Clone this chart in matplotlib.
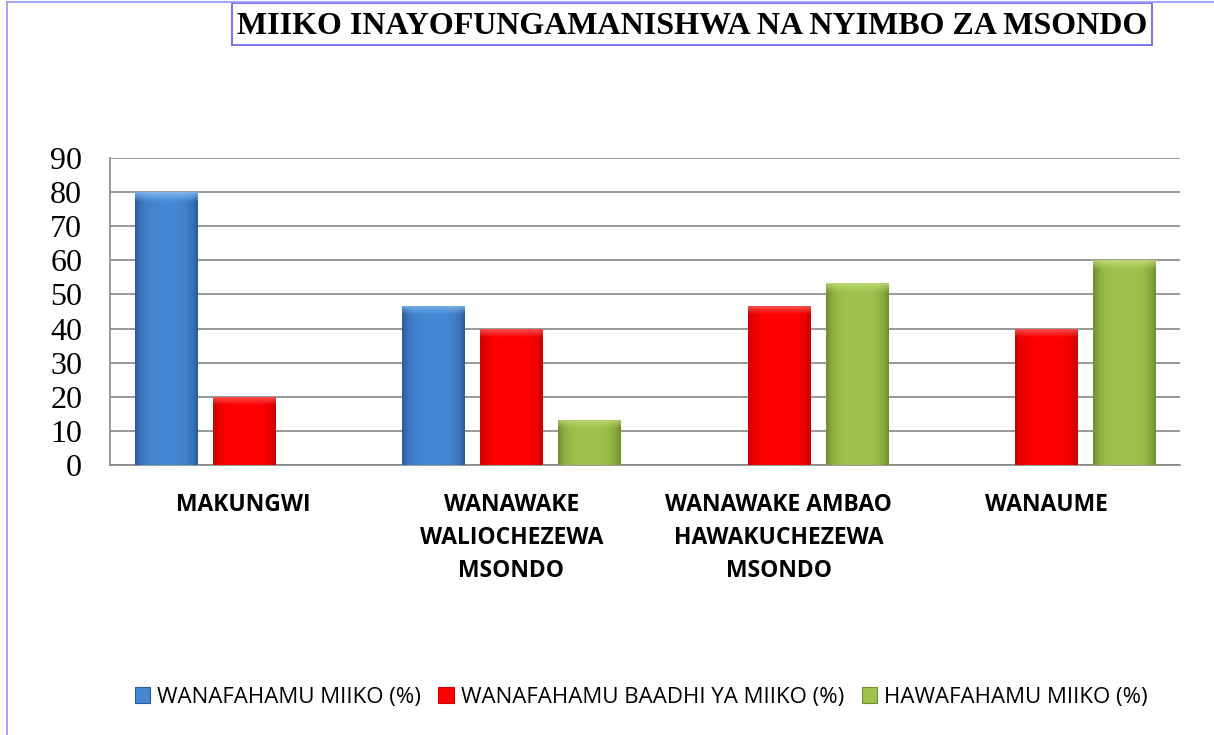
import matplotlib.pyplot as plt
import numpy as np
from matplotlib.patches import Patch, Rectangle
from matplotlib.lines import Line2D

categories = ['MAKUNGWI',
              'WANAWAKE\nWALIOCHEZEWA\nMSONDO',
              'WANAWAKE AMBAO\nHAWAKUCHEZEWA\nMSONDO',
              'WANAUME']
series_names = ['WANAFAHAMU MIIKO (%)',
                'WANAFAHAMU BAADHI YA MIIKO (%)',
                'HAWAFAHAMU MIIKO (%)']
wanafahamu = [80, 46.7, np.nan, np.nan]
baadhi = [20, 40, 46.7, 40]
hawafahamu = [np.nan, 13.3, 53.3, 60]
yticks = list(range(0, 100, 10))
title = 'MIIKO INAYOFUNGAMANISHWA NA NYIMBO ZA MSONDO'

# (middle, edge, highlight) colour for each series
palette = [
    (np.array([0.27, 0.53, 0.83]), np.array([0.17, 0.36, 0.60]), np.array([0.55, 0.76, 0.96])),
    (np.array([1.00, 0.00, 0.00]), np.array([0.80, 0.00, 0.00]), np.array([1.00, 0.45, 0.45])),
    (np.array([0.62, 0.76, 0.30]), np.array([0.44, 0.56, 0.18]), np.array([0.78, 0.88, 0.50])),
]

W, H = 1214, 735


def shade(ax, bar, mid, dark, light, bevel):
    # fake the Excel bevel: darker sides, lighter top band
    x0, w, h = bar.get_x(), bar.get_width(), bar.get_height()
    if not np.isfinite(h) or h <= 0:
        return
    nx, ny = 60, 200
    t = np.linspace(-1, 1, nx)
    side = np.abs(t) ** 4
    row = mid[None, :] * (1 - side[:, None]) + dark[None, :] * side[:, None]
    img = np.repeat(row[None, :, :], ny, axis=0)
    yy = np.linspace(0, h, ny)
    top = np.clip((yy - (h - bevel)) / bevel, 0, 1) * 0.75
    img = img * (1 - top[:, None, None]) + light[None, None, :] * top[:, None, None]
    im = ax.imshow(img, extent=(x0, x0 + w, 0, h), origin='lower',
                   aspect='auto', zorder=3, interpolation='bilinear')
    im.set_clip_path(bar)


fig = plt.figure(figsize=(W / 100, H / 100), dpi=100)
ax = fig.add_axes([110 / W, 1 - 465 / H, 1070 / W, 307 / H])

x = np.arange(len(categories))
width = 0.232
offset = 0.292
bevel = 9 / (307 / 90)
for i, vals in enumerate([wanafahamu, baadhi, hawafahamu]):
    mid, dark, light = palette[i]
    bars = ax.bar(x + (i - 1) * offset, vals, width, color=mid,
                  edgecolor=dark, linewidth=0.6, zorder=2)
    for b in bars:
        shade(ax, b, mid, dark, light, bevel)

ax.set_xlim(-0.5, 3.5)
ax.set_ylim(0, 90)
ax.set_yticks(yticks)
ax.set_yticklabels([str(v) for v in yticks], family='Liberation Serif', fontsize=23)
ax.set_xticks(x)
ax.set_xticklabels(categories, family='Open Sans', fontweight='bold',
                   fontsize=16.5, linespacing=1.5)
ax.tick_params(axis='both', length=0)
ax.tick_params(axis='y', pad=20)
ax.tick_params(axis='x', pad=20)
ax.grid(axis='y', color='#888888', linewidth=1.2, zorder=1)
ax.set_axisbelow(True)
for s in ['top', 'right']:
    ax.spines[s].set_visible(False)
for s in ['left', 'bottom']:
    ax.spines[s].set_color('#888888')
    ax.spines[s].set_linewidth(1.2)

handles = [Patch(facecolor=p[0], edgecolor=p[1], linewidth=0.8) for p in palette]
fig.legend(handles, series_names, loc='center', bbox_to_anchor=(0.528, 1 - 697 / H),
           ncol=3, frameon=False, handlelength=0.7, handleheight=0.7,
           handletextpad=0.3, columnspacing=0.8,
           prop=dict(family='Open Sans', size=16))

# title with its own frame
fig.add_artist(Rectangle((232 / W, 1 - 45 / H), 920 / W, 42 / H, transform=fig.transFigure,
                         fill=False, edgecolor='#6b6bea', linewidth=1.3))
fig.text(692 / W, 1 - 26 / H, title, ha='center', va='center',
         family='Liberation Serif', fontweight='bold', fontsize=23)

# outer chart border
fig.add_artist(Line2D([7 / W, 7 / W], [0, 1 - 2 / H], transform=fig.transFigure,
                      color='#9d9dff', linewidth=1.3))
fig.add_artist(Line2D([7 / W, 1], [1 - 2 / H, 1 - 2 / H], transform=fig.transFigure,
                      color='#9d9dff', linewidth=1.3))

fig.savefig('out.png', dpi=100)
